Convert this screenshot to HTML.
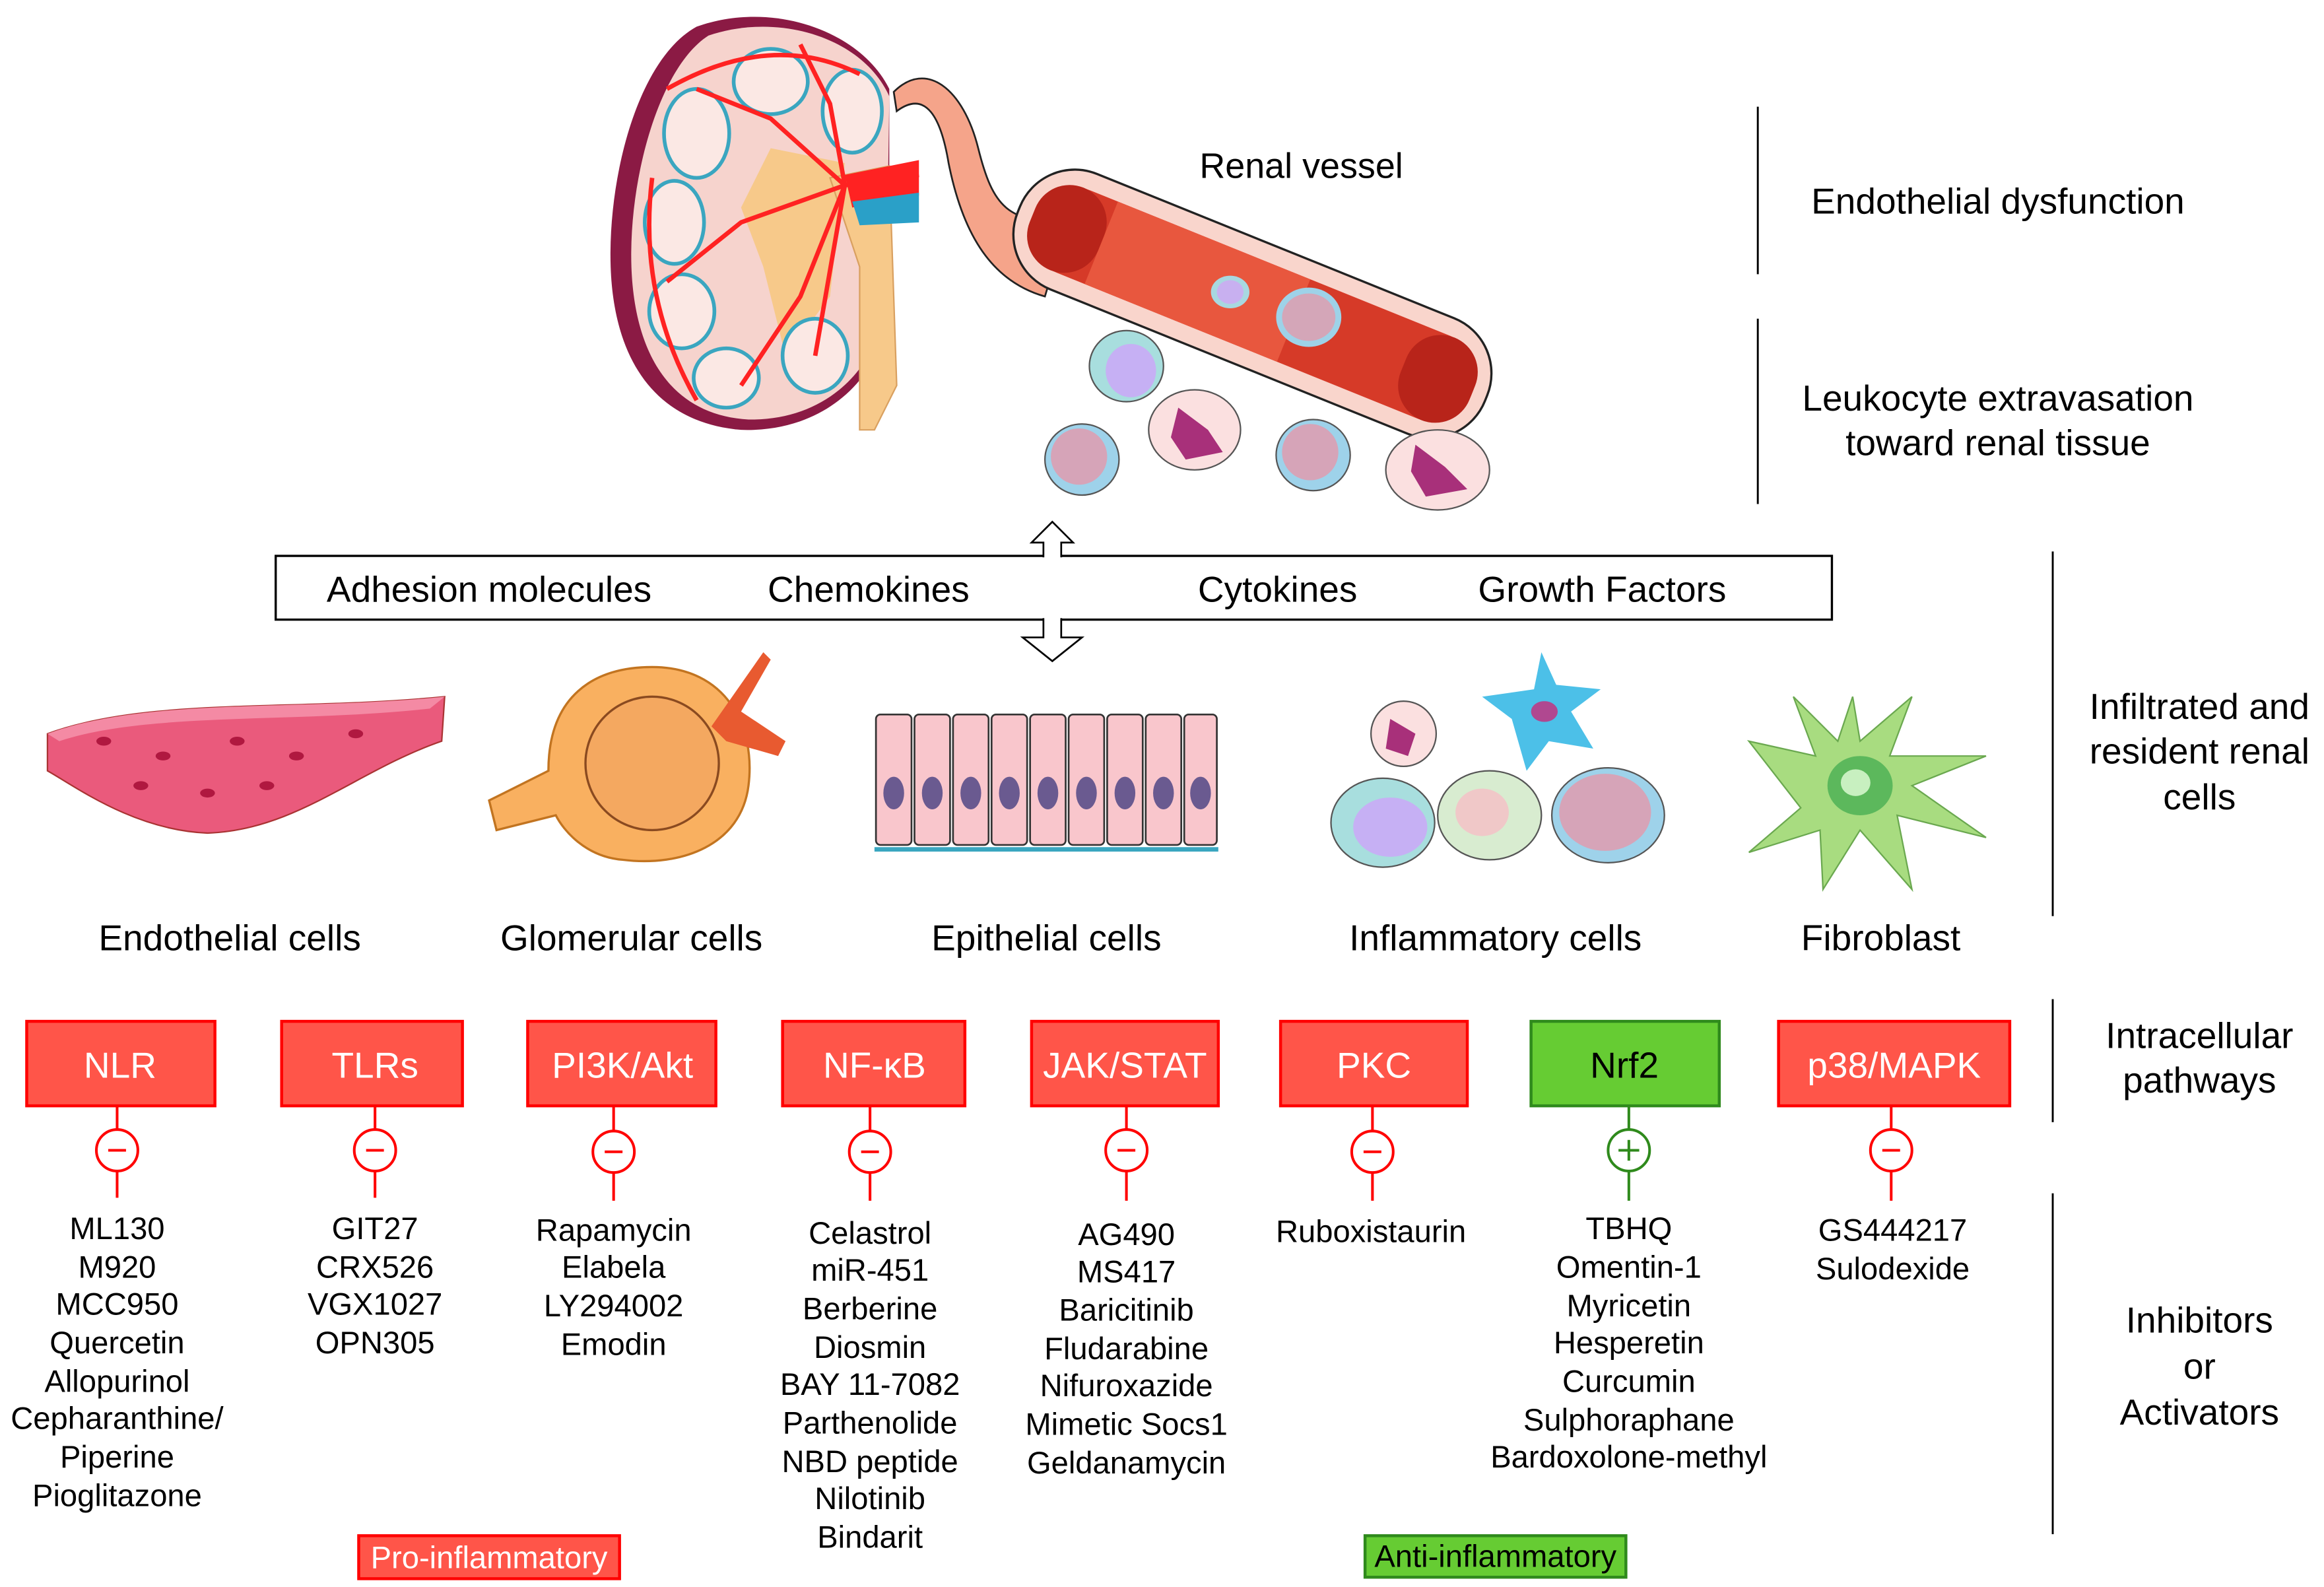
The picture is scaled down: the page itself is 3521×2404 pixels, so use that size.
<!DOCTYPE html>
<html><head><meta charset="utf-8"><style>
html,body{margin:0;padding:0;background:#fff;}
svg{display:block;}
text{font-family:"Liberation Sans",Arial,sans-serif;fill:#000;}
</style></head><body>
<svg width="3521" height="2404" viewBox="0 0 1568 1070.6" xmlns="http://www.w3.org/2000/svg">
<!-- Kidney -->
<g>
<path d="M470,18 C430,40 410,120 412,180 C414,240 440,285 500,290 C560,292 600,250 600,200 L600,60 C580,20 520,0 470,18 Z" fill="#8b1a44"/>
<path d="M478,24 C445,45 424,120 426,180 C428,238 452,280 505,283 C560,284 595,245 598,200 L600,65 C582,25 525,8 478,24 Z" fill="#f6d3cd"/>
<path d="M520,100 L570,110 L560,200 L530,240 L515,180 L500,140 Z" fill="#f7c98a"/>
<path d="M560,120 L600,112 L605,260 L590,290 L580,290 L580,180 Z" fill="#f7c98a" stroke="#d9a060" stroke-width="1"/>
<g fill="#fbe8e4" stroke="#3aa6c0" stroke-width="2.5">
<ellipse cx="470" cy="90" rx="22" ry="30"/><ellipse cx="520" cy="55" rx="25" ry="22"/><ellipse cx="455" cy="150" rx="20" ry="28"/>
<ellipse cx="460" cy="210" rx="22" ry="25"/><ellipse cx="490" cy="255" rx="22" ry="20"/><ellipse cx="550" cy="240" rx="22" ry="25"/><ellipse cx="575" cy="75" rx="20" ry="28"/>
</g>
<g fill="none" stroke="#f22" stroke-width="3">
<path d="M620,118 L570,125 L520,80 L470,60"/><path d="M570,125 L500,150 L450,190"/><path d="M570,125 L540,200 L500,260"/><path d="M570,125 L560,70 L540,30"/><path d="M570,125 L550,240"/>
<path d="M450,60 Q520,20 580,50"/><path d="M440,120 Q430,200 470,270"/>
</g>
<path d="M570,118 L620,108 L620,132 L575,140 Z" fill="#f22"/>
<path d="M575,136 L620,130 L620,150 L580,152 Z" fill="#2aa0c8"/>
</g>
<!-- renal vessel -->
<path d="M603,62 C625,40 650,60 660,100 C670,140 680,150 720,150 L705,200 C670,190 650,160 640,110 C635,80 625,60 605,75 Z" fill="#f5a48a" stroke="#222" stroke-width="1.2"/>
<g transform="translate(845,205) rotate(22)">
<rect x="-170" y="-42" width="340" height="84" rx="40" fill="#f9d5cc" stroke="#222" stroke-width="1.5"/>
<rect x="-158" y="-30" width="318" height="60" rx="28" fill="#d63a28"/>
<rect x="-110" y="-30" width="140" height="60" fill="#e8573e"/>
<rect x="-160" y="-30" width="50" height="60" rx="25" fill="#b8241a"/>
<rect x="110" y="-30" width="50" height="60" rx="25" fill="#b8241a"/>
</g>
<ellipse cx="830" cy="197" rx="13" ry="11" fill="#a8d8e0"/><ellipse cx="830" cy="197" rx="9" ry="8" fill="#c8b0f0"/>
<ellipse cx="883" cy="214" rx="22" ry="20" fill="#9ed2e8"/><ellipse cx="883" cy="214" rx="18" ry="16" fill="#d4a6b8"/>
<!-- leukocytes -->
<ellipse cx="760" cy="247" rx="25" ry="24" fill="#a8dede" stroke="#555" stroke-width="1"/><ellipse cx="763" cy="250" rx="17" ry="18" fill="#c6b0f4"/>
<ellipse cx="730" cy="310" rx="25" ry="24" fill="#9ed2ea" stroke="#555" stroke-width="1"/><ellipse cx="728" cy="308" rx="19" ry="19" fill="#d6a4b8"/>
<ellipse cx="806" cy="290" rx="31" ry="27" fill="#fbe0e0" stroke="#555" stroke-width="1"/><path d="M795,275 L815,290 L825,305 L800,310 L790,295 Z" fill="#a8307a"/>
<ellipse cx="886" cy="307" rx="25" ry="24" fill="#9ed2ea" stroke="#555" stroke-width="1"/><ellipse cx="884" cy="305" rx="19" ry="19" fill="#d6a4b8"/>
<ellipse cx="970" cy="317" rx="35" ry="27" fill="#fbe0e0" stroke="#555" stroke-width="1"/><path d="M955,300 L975,315 L990,330 L962,335 L952,318 Z" fill="#a8307a"/>
<text x="878" y="120" font-size="24" text-anchor="middle">Renal vessel</text>
<line x1="1186" y1="72" x2="1186" y2="185" stroke="#000" stroke-width="1.3"/>
<line x1="1186" y1="215" x2="1186" y2="340" stroke="#000" stroke-width="1.3"/>
<text x="1348" y="144" font-size="24.5" text-anchor="middle">Endothelial dysfunction</text>
<text x="1348" y="277" font-size="24.5" text-anchor="middle">Leukocyte extravasation</text>
<text x="1348" y="307" font-size="24.5" text-anchor="middle">toward renal tissue</text>
<!-- box with arrows -->
<rect x="186" y="375" width="1050" height="43" fill="#fff" stroke="#000" stroke-width="1.5"/>
<path d="M704,376 L704,366 L696,366 L710,352 L724,366 L716,366 L716,376" fill="#fff" stroke="#000" stroke-width="1.2"/>
<path d="M704,417 L704,430 L690,430 L710,446 L730,430 L716,430 L716,417" fill="#fff" stroke="#000" stroke-width="1.2"/>
<line x1="705" y1="418" x2="715" y2="418" stroke="#fff" stroke-width="2"/>
<line x1="705" y1="375" x2="715" y2="375" stroke="#fff" stroke-width="2"/>
<g font-size="24.5" text-anchor="middle">
<text x="330" y="406">Adhesion molecules</text>
<text x="586" y="406">Chemokines</text>
<text x="862" y="406">Cytokines</text>
<text x="1081" y="406">Growth Factors</text>
</g>
<line x1="1385" y1="372" x2="1385" y2="618" stroke="#000" stroke-width="1.3"/>
<text x="1484" y="485" font-size="24.5" text-anchor="middle">Infiltrated and</text>
<text x="1484" y="515" font-size="24.5" text-anchor="middle">resident renal</text>
<text x="1484" y="546" font-size="24.5" text-anchor="middle">cells</text>
<!-- endothelial -->
<path d="M32,495 C100,470 200,480 300,470 L298,500 C240,520 200,560 140,562 C90,560 50,530 32,520 Z" fill="#ea5a7c" stroke="#a33" stroke-width="1"/>
<path d="M32,495 C100,470 200,480 300,470 L290,478 C200,488 100,480 40,500 Z" fill="#f48aa4"/>
<g fill="#b01840"><ellipse cx="70" cy="500" rx="5" ry="3"/><ellipse cx="110" cy="510" rx="5" ry="3"/><ellipse cx="160" cy="500" rx="5" ry="3"/><ellipse cx="200" cy="510" rx="5" ry="3"/><ellipse cx="240" cy="495" rx="5" ry="3"/><ellipse cx="140" cy="535" rx="5" ry="3"/><ellipse cx="180" cy="530" rx="5" ry="3"/><ellipse cx="95" cy="530" rx="5" ry="3"/></g>
<!-- glomerular -->
<path d="M330,540 L370,520 C370,470 400,450 440,450 C490,450 510,490 505,530 C500,570 460,585 420,580 C395,578 380,560 375,550 L335,560 Z" fill="#f9b060" stroke="#c27420" stroke-width="1.5"/>
<ellipse cx="440" cy="515" rx="45" ry="45" fill="#f4a860" stroke="#8a4a20" stroke-width="1.5"/>
<path d="M480,490 L515,440 L520,445 L500,480 L530,500 L525,510 L490,500 Z" fill="#e85a30"/>
<!-- epithelial -->
<g fill="#f9c6cc" stroke="#333" stroke-width="1.2">
<rect x="591" y="482" width="24" height="88" rx="3"/><rect x="617" y="482" width="24" height="88" rx="3"/><rect x="643" y="482" width="24" height="88" rx="3"/><rect x="669" y="482" width="24" height="88" rx="3"/><rect x="695" y="482" width="24" height="88" rx="3"/><rect x="721" y="482" width="24" height="88" rx="3"/><rect x="747" y="482" width="24" height="88" rx="3"/><rect x="773" y="482" width="24" height="88" rx="3"/><rect x="799" y="482" width="22" height="88" rx="3"/>
</g>
<g fill="#6a5a90"><ellipse cx="603" cy="535" rx="7" ry="11"/><ellipse cx="629" cy="535" rx="7" ry="11"/><ellipse cx="655" cy="535" rx="7" ry="11"/><ellipse cx="681" cy="535" rx="7" ry="11"/><ellipse cx="707" cy="535" rx="7" ry="11"/><ellipse cx="733" cy="535" rx="7" ry="11"/><ellipse cx="759" cy="535" rx="7" ry="11"/><ellipse cx="785" cy="535" rx="7" ry="11"/><ellipse cx="810" cy="535" rx="7" ry="11"/></g>
<line x1="590" y1="573" x2="822" y2="573" stroke="#3aa6c0" stroke-width="3"/>
<!-- inflammatory -->
<ellipse cx="947" cy="495" rx="22" ry="22" fill="#fbe0e0" stroke="#555"/><path d="M938,485 L955,495 L950,510 L935,505 Z" fill="#a8307a"/>
<path d="M1040,440 L1035,465 L1000,470 L1020,485 L1030,520 L1045,500 L1075,505 L1060,480 L1080,465 L1050,462 Z" fill="#4cc0e8"/><ellipse cx="1042" cy="480" rx="9" ry="7" fill="#b04890"/>
<ellipse cx="933" cy="555" rx="35" ry="30" fill="#a8dede" stroke="#555"/><ellipse cx="938" cy="558" rx="25" ry="20" fill="#c6b0f4"/>
<ellipse cx="1005" cy="550" rx="35" ry="30" fill="#d8ecd0" stroke="#555"/><ellipse cx="1000" cy="548" rx="18" ry="16" fill="#f0c8c8"/>
<ellipse cx="1085" cy="550" rx="38" ry="32" fill="#9ed2ea" stroke="#555"/><ellipse cx="1083" cy="548" rx="31" ry="26" fill="#d6a4b8"/>
<!-- fibroblast -->
<path d="M1250,470 L1255,500 L1290,470 L1275,510 L1340,510 L1290,530 L1340,565 L1280,550 L1290,600 L1255,560 L1230,600 L1228,560 L1180,575 L1215,545 L1180,500 L1225,510 L1210,470 L1240,500 Z" fill="#a8dc80" stroke="#6aa84f" stroke-width="1"/>
<ellipse cx="1255" cy="530" rx="22" ry="20" fill="#5cb85c"/><ellipse cx="1252" cy="528" rx="10" ry="9" fill="#c8f0c0"/>
<g font-size="24.5" text-anchor="middle">
<text x="155" y="641">Endothelial cells</text>
<text x="426" y="641">Glomerular cells</text>
<text x="706" y="641">Epithelial cells</text>
<text x="1009" y="641">Inflammatory cells</text>
<text x="1269" y="641">Fibroblast</text>
</g>
<line x1="1385" y1="674" x2="1385" y2="757" stroke="#000" stroke-width="1.3"/>
<text x="1484" y="707" font-size="24.5" text-anchor="middle">Intracellular</text>
<text x="1484" y="737" font-size="24.5" text-anchor="middle">pathways</text>
<!-- pathway boxes -->
<g stroke="#ff0000" stroke-width="2" fill="#ff5549">
<rect x="18" y="689" width="127" height="57"/>
<rect x="190" y="689" width="122" height="57"/>
<rect x="356" y="689" width="127" height="57"/>
<rect x="528" y="689" width="123" height="57"/>
<rect x="696" y="689" width="126" height="57"/>
<rect x="864" y="689" width="126" height="57"/>
<rect x="1200" y="689" width="156" height="57"/>
</g>
<rect x="1033" y="689" width="127" height="57" fill="#66cc33" stroke="#2f8a1c" stroke-width="2"/>
<g font-size="24.5" text-anchor="middle">
<text x="81" y="727" style="fill:#fff">NLR</text>
<text x="253" y="727" style="fill:#fff">TLRs</text>
<text x="420" y="727" style="fill:#fff">PI3K/Akt</text>
<text x="590" y="727" style="fill:#fff">NF-κB</text>
<text x="759" y="727" style="fill:#fff">JAK/STAT</text>
<text x="927" y="727" style="fill:#fff">PKC</text>
<text x="1096" y="727" style="fill:#000">Nrf2</text>
<text x="1278" y="727" style="fill:#fff">p38/MAPK</text>
</g>
<!-- circles -->
<g stroke="#ff0000" stroke-width="1.8" fill="#fff">
<line x1="79" y1="746" x2="79" y2="808"/><circle cx="79" cy="776" r="14"/><line x1="73" y1="776" x2="85" y2="776"/>
<line x1="253" y1="746" x2="253" y2="808"/><circle cx="253" cy="776" r="14"/><line x1="247" y1="776" x2="259" y2="776"/>
<line x1="414" y1="746" x2="414" y2="810"/><circle cx="414" cy="777" r="14"/><line x1="408" y1="777" x2="420" y2="777"/>
<line x1="587" y1="746" x2="587" y2="810"/><circle cx="587" cy="777" r="14"/><line x1="581" y1="777" x2="593" y2="777"/>
<line x1="760" y1="746" x2="760" y2="810"/><circle cx="760" cy="776" r="14"/><line x1="754" y1="776" x2="766" y2="776"/>
<line x1="926" y1="746" x2="926" y2="810"/><circle cx="926" cy="777" r="14"/><line x1="920" y1="777" x2="932" y2="777"/>
<line x1="1276" y1="746" x2="1276" y2="810"/><circle cx="1276" cy="776" r="14"/><line x1="1270" y1="776" x2="1282" y2="776"/>
</g>
<g stroke="#2f8a1c" stroke-width="1.8" fill="#fff">
<line x1="1099" y1="746" x2="1099" y2="810"/><circle cx="1099" cy="776" r="14"/><line x1="1092" y1="776" x2="1106" y2="776"/><line x1="1099" y1="769" x2="1099" y2="783"/>
</g>
<!-- drugs -->
<g font-size="21" text-anchor="middle">
<text x="79" y="836">ML130</text><text x="79" y="862">M920</text><text x="79" y="887">MCC950</text><text x="79" y="913">Quercetin</text><text x="79" y="939">Allopurinol</text><text x="79" y="964">Cepharanthine/</text><text x="79" y="990">Piperine</text><text x="79" y="1016">Pioglitazone</text>
<text x="253" y="836">GIT27</text><text x="253" y="862">CRX526</text><text x="253" y="887">VGX1027</text><text x="253" y="913">OPN305</text>
<text x="414" y="837">Rapamycin</text><text x="414" y="862">Elabela</text><text x="414" y="888">LY294002</text><text x="414" y="914">Emodin</text>
<text x="587" y="839">Celastrol</text><text x="587" y="864">miR-451</text><text x="587" y="890">Berberine</text><text x="587" y="916">Diosmin</text><text x="587" y="941">BAY 11-7082</text><text x="587" y="967">Parthenolide</text><text x="587" y="993">NBD peptide</text><text x="587" y="1018">Nilotinib</text><text x="587" y="1044">Bindarit</text>
<text x="760" y="840">AG490</text><text x="760" y="865">MS417</text><text x="760" y="891">Baricitinib</text><text x="760" y="917">Fludarabine</text><text x="760" y="942">Nifuroxazide</text><text x="760" y="968">Mimetic Socs1</text><text x="760" y="994">Geldanamycin</text>
<text x="925" y="838">Ruboxistaurin</text>
<text x="1099" y="836">TBHQ</text><text x="1099" y="862">Omentin-1</text><text x="1099" y="888">Myricetin</text><text x="1099" y="913">Hesperetin</text><text x="1099" y="939">Curcumin</text><text x="1099" y="965">Sulphoraphane</text><text x="1099" y="990">Bardoxolone-methyl</text>
<text x="1277" y="837">GS444217</text><text x="1277" y="863">Sulodexide</text>
</g>
<line x1="1385" y1="805" x2="1385" y2="1035" stroke="#000" stroke-width="1.3"/>
<text x="1484" y="899" font-size="24.5" text-anchor="middle">Inhibitors</text>
<text x="1484" y="930" font-size="24.5" text-anchor="middle">or</text>
<text x="1484" y="961" font-size="24.5" text-anchor="middle">Activators</text>
<rect x="242" y="1036" width="176" height="29" fill="#ff5549" stroke="#ff0000" stroke-width="2"/>
<text x="330" y="1058" font-size="21" text-anchor="middle" style="fill:#fff">Pro-inflammatory</text>
<rect x="921" y="1036" width="176" height="28" fill="#66cc33" stroke="#2f8a1c" stroke-width="2"/>
<text x="1009" y="1057" font-size="21" text-anchor="middle">Anti-inflammatory</text>
</svg>
</body></html>
